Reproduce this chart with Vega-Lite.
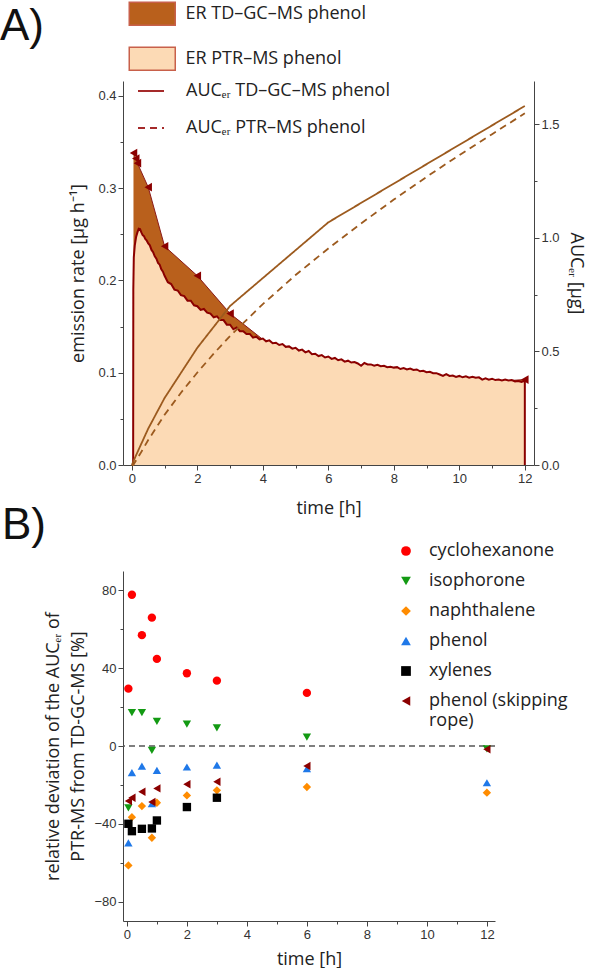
{
  "$schema": "https://vega.github.io/schema/vega-lite/v6.json",
  "padding": {"left": 0, "top": 1, "right": 0, "bottom": 0},
  "background": "white",
  "bounds": "flush",
  "spacing": 106,
  "resolve": {
    "scale": {"color": "independent", "shape": "independent", "fill": "independent", "strokeDash": "independent"},
    "legend": {"color": "independent", "shape": "independent", "fill": "independent", "strokeDash": "independent"}
  },
  "config": {
    "view": {"stroke": null},
    "axis": {"labelFont": "Liberation Sans", "labelFontSize": 13, "labelColor": "#333", "titleFont": "Open Sans", "titleFontSize": 18, "titleFontWeight": "normal", "titleColor": "#222", "domainColor": "#444", "tickColor": "#444", "grid": false, "labelPadding": 2, "labelFlush": false, "labelOverlap": false},
    "legend": {"labelFont": "Open Sans", "labelFontSize": 18, "labelColor": "#222", "padding": 0, "labelLimit": 400},
    "title": {"font": "Liberation Sans", "fontSize": 44, "fontWeight": "normal", "color": "#111"}
  },
  "datasets": {
    "td": [
      {"t": 0.05, "er": 0.338}, {"t": 0.12, "er": 0.332}, {"t": 0.17, "er": 0.327}, {"t": 0.5, "er": 0.301},
      {"t": 1, "er": 0.237}, {"t": 2, "er": 0.205}, {"t": 3, "er": 0.164}, {"t": 6, "er": 0.08}, {"t": 12, "er": 0.0925}
    ],
    "ptr": [
      {"t": 0.04, "er": 0}, {"t": 0.045, "er": 0.19}, {"t": 0.06, "er": 0.225}, {"t": 0.09, "er": 0.238}, {"t": 0.13, "er": 0.247},
      {"t": 0.17, "er": 0.252}, {"t": 0.21, "er": 0.256}, {"t": 0.25, "er": 0.2555}, {"t": 0.29, "er": 0.252}, {"t": 0.33, "er": 0.249},
      {"t": 0.37, "er": 0.248}, {"t": 0.41, "er": 0.245}, {"t": 0.45, "er": 0.2435}, {"t": 0.5, "er": 0.240}, {"t": 0.55, "er": 0.238},
      {"t": 0.6, "er": 0.233}, {"t": 0.65, "er": 0.2305}, {"t": 0.7, "er": 0.226}, {"t": 0.75, "er": 0.2235}, {"t": 0.8, "er": 0.219},
      {"t": 0.85, "er": 0.217}, {"t": 0.9, "er": 0.212}, {"t": 0.95, "er": 0.2095},
      {"t": 1.0, "er": 0.205}, {"t": 1.1, "er": 0.198}, {"t": 1.2, "er": 0.196}, {"t": 1.3, "er": 0.190}, {"t": 1.4, "er": 0.189},
      {"t": 1.5, "er": 0.184}, {"t": 1.6, "er": 0.183}, {"t": 1.7, "er": 0.178}, {"t": 1.8, "er": 0.178}, {"t": 1.9, "er": 0.173},
      {"t": 2.0, "er": 0.172}, {"t": 2.1, "er": 0.168}, {"t": 2.2, "er": 0.169}, {"t": 2.3, "er": 0.165}, {"t": 2.4, "er": 0.164},
      {"t": 2.5, "er": 0.160}, {"t": 2.6, "er": 0.161}, {"t": 2.7, "er": 0.157}, {"t": 2.8, "er": 0.157}, {"t": 2.9, "er": 0.152},
      {"t": 3.0, "er": 0.152}, {"t": 3.1, "er": 0.147}, {"t": 3.2, "er": 0.149}, {"t": 3.3, "er": 0.145}, {"t": 3.4, "er": 0.145},
      {"t": 3.5, "er": 0.142}, {"t": 3.6, "er": 0.142}, {"t": 3.7, "er": 0.138}, {"t": 3.8, "er": 0.139}, {"t": 3.9, "er": 0.136},
      {"t": 4.0, "er": 0.137}, {"t": 4.1, "er": 0.134}, {"t": 4.2, "er": 0.135}, {"t": 4.3, "er": 0.132}, {"t": 4.4, "er": 0.1325},
      {"t": 4.5, "er": 0.130}, {"t": 4.6, "er": 0.131}, {"t": 4.7, "er": 0.128}, {"t": 4.8, "er": 0.1285}, {"t": 4.9, "er": 0.126},
      {"t": 5.0, "er": 0.127}, {"t": 5.1, "er": 0.124}, {"t": 5.2, "er": 0.125}, {"t": 5.3, "er": 0.122}, {"t": 5.4, "er": 0.1235},
      {"t": 5.5, "er": 0.120}, {"t": 5.6, "er": 0.1205}, {"t": 5.7, "er": 0.118}, {"t": 5.8, "er": 0.119}, {"t": 5.9, "er": 0.1165},
      {"t": 6.0, "er": 0.1175}, {"t": 6.1, "er": 0.115}, {"t": 6.2, "er": 0.116}, {"t": 6.3, "er": 0.1135}, {"t": 6.4, "er": 0.1145},
      {"t": 6.5, "er": 0.112}, {"t": 6.6, "er": 0.113}, {"t": 6.7, "er": 0.111}, {"t": 6.8, "er": 0.1115}, {"t": 6.9, "er": 0.110},
      {"t": 7.0, "er": 0.1075}, {"t": 7.1, "er": 0.1105}, {"t": 7.2, "er": 0.109}, {"t": 7.3, "er": 0.109}, {"t": 7.4, "er": 0.1075},
      {"t": 7.5, "er": 0.1085}, {"t": 7.6, "er": 0.107}, {"t": 7.7, "er": 0.1075}, {"t": 7.8, "er": 0.106}, {"t": 7.9, "er": 0.1065},
      {"t": 8.0, "er": 0.1055}, {"t": 8.1, "er": 0.106}, {"t": 8.2, "er": 0.104}, {"t": 8.3, "er": 0.105}, {"t": 8.4, "er": 0.1035},
      {"t": 8.5, "er": 0.1045}, {"t": 8.6, "er": 0.103}, {"t": 8.7, "er": 0.1035}, {"t": 8.8, "er": 0.1015}, {"t": 8.9, "er": 0.102},
      {"t": 9.0, "er": 0.1005}, {"t": 9.1, "er": 0.101}, {"t": 9.2, "er": 0.0995}, {"t": 9.3, "er": 0.0995}, {"t": 9.4, "er": 0.098},
      {"t": 9.5, "er": 0.0965}, {"t": 9.6, "er": 0.0985}, {"t": 9.7, "er": 0.0965}, {"t": 9.8, "er": 0.097}, {"t": 9.9, "er": 0.0955},
      {"t": 10.0, "er": 0.0965}, {"t": 10.1, "er": 0.095}, {"t": 10.2, "er": 0.096}, {"t": 10.3, "er": 0.0945}, {"t": 10.4, "er": 0.0955},
      {"t": 10.5, "er": 0.0945}, {"t": 10.6, "er": 0.095}, {"t": 10.7, "er": 0.0925}, {"t": 10.8, "er": 0.094}, {"t": 10.9, "er": 0.0925},
      {"t": 11.0, "er": 0.0935}, {"t": 11.1, "er": 0.092}, {"t": 11.2, "er": 0.0925}, {"t": 11.3, "er": 0.0915}, {"t": 11.4, "er": 0.0925},
      {"t": 11.5, "er": 0.0915}, {"t": 11.6, "er": 0.092}, {"t": 11.7, "er": 0.0905}, {"t": 11.8, "er": 0.091}, {"t": 11.9, "er": 0.090},
      {"t": 12.0, "er": 0.0915}, {"t": 12.0, "er": 0}
    ],
    "auc": [
      {"t": 0, "auc": 0, "s": "AUCₑᵣ TD–GC–MS phenol"}, {"t": 0.05, "auc": 0.017, "s": "AUCₑᵣ TD–GC–MS phenol"},
      {"t": 0.17, "auc": 0.056, "s": "AUCₑᵣ TD–GC–MS phenol"}, {"t": 0.5, "auc": 0.160, "s": "AUCₑᵣ TD–GC–MS phenol"},
      {"t": 1, "auc": 0.295, "s": "AUCₑᵣ TD–GC–MS phenol"}, {"t": 2, "auc": 0.516, "s": "AUCₑᵣ TD–GC–MS phenol"},
      {"t": 3, "auc": 0.700, "s": "AUCₑᵣ TD–GC–MS phenol"}, {"t": 6, "auc": 1.068, "s": "AUCₑᵣ TD–GC–MS phenol"},
      {"t": 12, "auc": 1.58, "s": "AUCₑᵣ TD–GC–MS phenol"},
      {"t": 0, "auc": 0, "s": "AUCₑᵣ PTR–MS phenol"}, {"t": 0.04, "auc": 0, "s": "AUCₑᵣ PTR–MS phenol"},
      {"t": 0.25, "auc": 0.048, "s": "AUCₑᵣ PTR–MS phenol"}, {"t": 0.5, "auc": 0.110, "s": "AUCₑᵣ PTR–MS phenol"},
      {"t": 1, "auc": 0.221, "s": "AUCₑᵣ PTR–MS phenol"}, {"t": 1.5, "auc": 0.318, "s": "AUCₑᵣ PTR–MS phenol"},
      {"t": 2, "auc": 0.407, "s": "AUCₑᵣ PTR–MS phenol"}, {"t": 2.5, "auc": 0.490, "s": "AUCₑᵣ PTR–MS phenol"},
      {"t": 3, "auc": 0.568, "s": "AUCₑᵣ PTR–MS phenol"}, {"t": 4, "auc": 0.708, "s": "AUCₑᵣ PTR–MS phenol"},
      {"t": 5, "auc": 0.836, "s": "AUCₑᵣ PTR–MS phenol"}, {"t": 6, "auc": 0.953, "s": "AUCₑᵣ PTR–MS phenol"},
      {"t": 7, "auc": 1.063, "s": "AUCₑᵣ PTR–MS phenol"}, {"t": 8, "auc": 1.168, "s": "AUCₑᵣ PTR–MS phenol"},
      {"t": 9, "auc": 1.268, "s": "AUCₑᵣ PTR–MS phenol"}, {"t": 10, "auc": 1.364, "s": "AUCₑᵣ PTR–MS phenol"},
      {"t": 11, "auc": 1.456, "s": "AUCₑᵣ PTR–MS phenol"}, {"t": 12, "auc": 1.548, "s": "AUCₑᵣ PTR–MS phenol"}
    ],
    "dev": [
      {"t": 0.05, "d": 29.5, "c": "cyclohexanone"}, {"t": 0.167, "d": 77.8, "c": "cyclohexanone"}, {"t": 0.5, "d": 57, "c": "cyclohexanone"},
      {"t": 0.833, "d": 66, "c": "cyclohexanone"}, {"t": 1, "d": 44.8, "c": "cyclohexanone"}, {"t": 2, "d": 37.4, "c": "cyclohexanone"},
      {"t": 3, "d": 33.6, "c": "cyclohexanone"}, {"t": 6, "d": 27.3, "c": "cyclohexanone"},
      {"t": 0.05, "d": -31.8, "c": "isophorone"}, {"t": 0.167, "d": 17.2, "c": "isophorone"}, {"t": 0.5, "d": 17.2, "c": "isophorone"},
      {"t": 0.833, "d": -2.2, "c": "isophorone"}, {"t": 1, "d": 12.7, "c": "isophorone"}, {"t": 2, "d": 11.2, "c": "isophorone"},
      {"t": 3, "d": 9.3, "c": "isophorone"}, {"t": 6, "d": 4.6, "c": "isophorone"}, {"t": 12, "d": -1.5, "c": "isophorone"},
      {"t": 0.05, "d": -61.4, "c": "naphthalene"}, {"t": 0.167, "d": -36.6, "c": "naphthalene"}, {"t": 0.5, "d": -30.9, "c": "naphthalene"},
      {"t": 0.833, "d": -47.2, "c": "naphthalene"}, {"t": 1, "d": -29.2, "c": "naphthalene"}, {"t": 2, "d": -25.4, "c": "naphthalene"},
      {"t": 3, "d": -22.8, "c": "naphthalene"}, {"t": 6, "d": -21.1, "c": "naphthalene"}, {"t": 12, "d": -24, "c": "naphthalene"},
      {"t": 0.05, "d": -49.8, "c": "phenol"}, {"t": 0.167, "d": -13.7, "c": "phenol"}, {"t": 0.5, "d": -10.3, "c": "phenol"},
      {"t": 0.833, "d": -29.7, "c": "phenol"}, {"t": 1, "d": -12.5, "c": "phenol"}, {"t": 2, "d": -10.8, "c": "phenol"},
      {"t": 3, "d": -9.8, "c": "phenol"}, {"t": 6, "d": -11.7, "c": "phenol"}, {"t": 12, "d": -18.9, "c": "phenol"},
      {"t": 0.05, "d": -40, "c": "xylenes"}, {"t": 0.167, "d": -43.8, "c": "xylenes"}, {"t": 0.5, "d": -42.6, "c": "xylenes"},
      {"t": 0.833, "d": -42.4, "c": "xylenes"}, {"t": 1, "d": -38.3, "c": "xylenes"}, {"t": 2, "d": -31.4, "c": "xylenes"},
      {"t": 3, "d": -26.6, "c": "xylenes"},
      {"t": 0.05, "d": -28.3, "c": "phenol (skipping rope)"}, {"t": 0.167, "d": -26.6, "c": "phenol (skipping rope)"},
      {"t": 0.5, "d": -23.5, "c": "phenol (skipping rope)"}, {"t": 0.833, "d": -28.8, "c": "phenol (skipping rope)"},
      {"t": 1, "d": -21.8, "c": "phenol (skipping rope)"}, {"t": 2, "d": -19.7, "c": "phenol (skipping rope)"},
      {"t": 3, "d": -18.4, "c": "phenol (skipping rope)"}, {"t": 6, "d": -10.3, "c": "phenol (skipping rope)"},
      {"t": 12, "d": -1.7, "c": "phenol (skipping rope)"}
    ]
  },
  "vconcat": [
    {
      "width": 411,
      "height": 384,
      "title": {"text": "A)", "anchor": "start", "frame": "group", "dx": -123, "offset": -83, "baseline": "alphabetic"},
      "encoding": {
        "x": {
          "field": "t", "type": "quantitative",
          "scale": {"domain": [-0.27, 12.28], "nice": false, "zero": false},
          "axis": {
            "title": "time [h]", "values": [0,1,2,3,4,5,6,7,8,9,10,11,12],
            "labelExpr": "datum.value % 2 === 0 ? datum.label : ''",
            "tickSize": {"condition": {"test": "datum.value % 2 === 0", "value": 5}, "value": 3},
            "titlePadding": 14
          }
        }
      },
      "layer": [
        {
          "encoding": {
            "y": {
              "field": "er", "type": "quantitative",
              "scale": {"domain": [0, 0.416], "nice": false},
              "axis": {
                "title": "emission rate [µg h⁻¹]", "orient": "left",
                "values": [0,0.05,0.1,0.15,0.2,0.25,0.3,0.35,0.4],
                "labelExpr": "abs(round(datum.value*10)-datum.value*10) < 0.01 ? format(datum.value, '.1f') : ''",
                "tickSize": {"condition": {"test": "abs(round(datum.value*10)-datum.value*10) < 0.01", "value": 5}, "value": 3},
                "titlePadding": 10
              }
            }
          },
          "layer": [
            {
              "data": {"name": "td"},
              "mark": {"type": "area", "opacity": 1},
              "encoding": {
                "fill": {
                  "datum": "ER TD–GC–MS phenol", "type": "nominal",
                  "scale": {"domain": ["ER TD–GC–MS phenol", "ER PTR–MS phenol"], "range": ["#b9601c", "#fcdab5"]},
                  "legend": {"orient": "none", "legendX": 16.75, "legendY": -79.75, "title": null, "symbolType": "M-2,-1H2V1H-2Z", "symbolSize": 529, "symbolStrokeColor": "#c8604a", "symbolStrokeWidth": 1.5, "labelOffset": 20.75, "rowPadding": 16}
                }
              }
            },
            {
              "data": {"name": "td"},
              "mark": {"type": "line", "color": "#8b1a1a", "strokeWidth": 1}
            },
            {
              "data": {"name": "td"},
              "mark": {"type": "point", "shape": "triangle-left", "filled": true, "opacity": 1, "color": "#8b0000", "size": 75}
            },
            {
              "data": {"name": "ptr"},
              "mark": {"type": "area", "opacity": 1},
              "encoding": {
                "fill": {
                  "datum": "ER PTR–MS phenol", "type": "nominal",
                  "scale": {"domain": ["ER TD–GC–MS phenol", "ER PTR–MS phenol"], "range": ["#b9601c", "#fcdab5"]},
                  "legend": {"orient": "none", "legendX": 16.75, "legendY": -79.75, "title": null, "symbolType": "M-2,-1H2V1H-2Z", "symbolSize": 529, "symbolStrokeColor": "#c8604a", "symbolStrokeWidth": 1.5, "labelOffset": 20.75, "rowPadding": 16}
                }
              }
            },
            {
              "data": {"name": "ptr"},
              "mark": {"type": "line", "color": "#8b0000", "strokeWidth": 2}
            }
          ]
        },
        {
          "data": {"name": "auc"},
          "mark": {"type": "line", "color": "#9c5a1e", "strokeWidth": 1.8},
          "encoding": {
            "y": {
              "field": "auc", "type": "quantitative",
              "scale": {"domain": [0, 1.69], "nice": false},
              "axis": {
                "title": "AUCₑᵣ [µg]", "orient": "right",
                "values": [0,0.25,0.5,0.75,1,1.25,1.5],
                "labelExpr": "abs(round(datum.value*2)-datum.value*2) < 0.01 ? format(datum.value, '.1f') : ''",
                "tickSize": {"condition": {"test": "abs(round(datum.value*2)-datum.value*2) < 0.01", "value": 5}, "value": 3},
                "titlePadding": 7
              }
            },
            "strokeDash": {
              "field": "s", "type": "nominal",
              "scale": {"domain": ["AUCₑᵣ TD–GC–MS phenol", "AUCₑᵣ PTR–MS phenol"], "range": [[1, 0], [7, 5]]},
              "legend": {"orient": "none", "legendX": 14, "legendY": -4, "title": null, "symbolType": "M-1,0H1", "symbolSize": 676, "symbolStrokeColor": "#a52a2a", "symbolStrokeWidth": 2, "labelOffset": 21, "rowPadding": 14}
            }
          }
        }
      ],
      "resolve": {"scale": {"y": "independent"}}
    },
    {
      "width": 372,
      "height": 350,
      "title": {"text": "B)", "anchor": "start", "frame": "group", "dx": -121, "offset": -41, "baseline": "alphabetic"},
      "layer": [
        {
          "data": {"values": [{}]},
          "mark": {"type": "rule", "strokeDash": [6, 4], "color": "#555", "strokeWidth": 1.3},
          "encoding": {
            "y": {"datum": 0, "type": "quantitative", "scale": {"domain": [-90, 90], "nice": false}}
          }
        },
        {
          "data": {"name": "dev"},
          "mark": {"type": "point", "filled": true, "opacity": 1, "size": 70},
          "encoding": {
            "x": {
              "field": "t", "type": "quantitative",
              "scale": {"domain": [-0.13, 12.27], "nice": false, "zero": false},
              "axis": {
                "title": "time [h]", "values": [0,1,2,3,4,5,6,7,8,9,10,11,12],
                "labelExpr": "datum.value % 2 === 0 ? datum.label : ''",
                "tickSize": {"condition": {"test": "datum.value % 2 === 0", "value": 5}, "value": 3},
                "titlePadding": 9
              }
            },
            "y": {
              "field": "d", "type": "quantitative",
              "scale": {"domain": [-90, 90], "nice": false},
              "axis": {
                "title": ["relative deviation of the AUCₑᵣ of", "PTR-MS from TD-GC-MS [%]"],
                "titleLineHeight": 25,
                "values": [-80,-60,-40,-20,0,20,40,60,80],
                "labelExpr": "datum.value % 40 === 0 ? datum.label : ''",
                "tickSize": {"condition": {"test": "datum.value % 40 === 0", "value": 5}, "value": 3},
                "titlePadding": 6
              }
            },
            "color": {
              "field": "c", "type": "nominal",
              "scale": {"domain": ["cyclohexanone", "isophorone", "naphthalene", "phenol", "xylenes", "phenol (skipping rope)"], "range": ["#ff0000", "#139a13", "#ff8c00", "#1f78e8", "#000000", "#8b0000"]},
              "legend": {"orient": "none", "legendX": 274, "legendY": -29, "title": null, "symbolSize": 95, "labelOffset": 14, "rowPadding": 12, "labelExpr": "datum.label == 'phenol (skipping rope)' ? ['phenol (skipping', 'rope)'] : datum.label", "encode": {"labels": {"enter": {"lineHeight": {"value": 25}}, "update": {"lineHeight": {"value": 25}}}}}
            },
            "shape": {
              "field": "c", "type": "nominal",
              "scale": {"domain": ["cyclohexanone", "isophorone", "naphthalene", "phenol", "xylenes", "phenol (skipping rope)"], "range": ["circle", "triangle-down", "diamond", "triangle-up", "square", "triangle-left"]},
              "legend": {"orient": "none", "legendX": 274, "legendY": -29, "title": null, "symbolSize": 95, "labelOffset": 14, "rowPadding": 12, "labelExpr": "datum.label == 'phenol (skipping rope)' ? ['phenol (skipping', 'rope)'] : datum.label", "encode": {"labels": {"enter": {"lineHeight": {"value": 25}}, "update": {"lineHeight": {"value": 25}}}}}
            }
          }
        }
      ]
    }
  ]
}
